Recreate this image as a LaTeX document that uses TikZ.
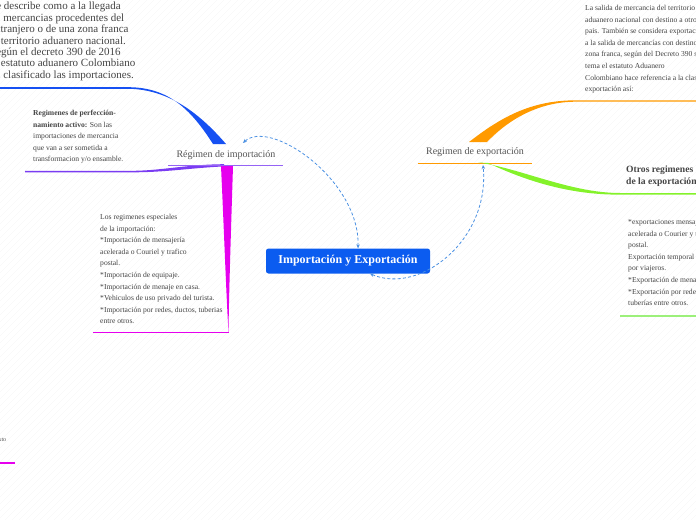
\documentclass[tikz,border=0pt]{standalone}
\usepackage{fontspec}
\setmainfont{Liberation Serif}
\usetikzlibrary{arrows.meta}
\definecolor{mapink}{HTML}{444444}
\definecolor{mapmuted}{HTML}{555555}
\definecolor{rootblue}{HTML}{0B5CF0}
\definecolor{impblue}{HTML}{1650F2}
\definecolor{impviolet}{HTML}{7A3CF2}
\definecolor{impmagenta}{HTML}{E600EE}
\definecolor{exporange}{HTML}{FF9A00}
\definecolor{expgreen}{HTML}{84F22A}
\definecolor{explight}{HTML}{9CF07A}
\definecolor{linkblue}{HTML}{4A90E2}

\begin{document}
\begin{tikzpicture}[
  x=1pt,
  y=-1pt,
  every node/.style={mapink, inner sep=0pt},
  hatch/.style={black!5, line width=0.3pt},
  title/.style={font=\fontsize{10}{12}\selectfont, mapmuted},
  body/.style={font=\fontsize{7.6}{11.6}\selectfont, align=left, anchor=north west},
  rootbox/.style={fill=rootblue, rounded corners=2.5pt, text=white,
    font=\bfseries\fontsize{12}{14}\selectfont, minimum width=164pt, minimum height=25pt},
  link/.style={linkblue, line width=0.8pt, dash pattern=on 3pt off 2.2pt,
    {Stealth[length=4pt,width=3.5pt]}-{Stealth[length=4pt,width=3.5pt]}}
]
  \useasboundingbox (0,0) rectangle (696,520);
  \clip (0,0) rectangle (696,520);

  % ---- faint paper hatch ----------------------------------------------
  \foreach \i in {-520,-513,...,696}
    \draw[hatch] (\i,520) -- ++(520,-520);

  % ---- import side branches -------------------------------------------
  % blue: up-left to the definition
  \fill[impblue] (213,144) .. controls (190,108) and (168,88) .. (130,87.2)
    -- (0,87.2) -- (0,88.8) -- (130,88.8)
    .. controls (165,90) and (195,108) .. (226,144) -- cycle;
  % violet: left to the active regime
  \fill[impviolet] (224,164.2) .. controls (185,164.5) and (160,171) .. (130,170.8)
    -- (25,170.8) -- (25,172.3) -- (130,172.3)
    .. controls (165,172.5) and (190,168) .. (224,166.4) -- cycle;
  \draw[impviolet!80, line width=1.4pt] (168,165.3) -- (283,165.3);
  % magenta: down to the special regimes
  \fill[impmagenta] (221,166) .. controls (224,230) and (226,290) .. (228.5,332)
    .. controls (229,290) and (231,230) .. (233,166) -- cycle;
  \draw[impmagenta, line width=1.4pt] (93,332.3) -- (229,332.3);
  % magenta stub, lower left
  \draw[impmagenta, line width=1.4pt] (0,463) -- (15,463);

  % ---- export side branches -------------------------------------------
  % orange: up-right to the definition
  \fill[exporange] (469,142) .. controls (500,118) and (530,100.5) .. (575,100.3)
    -- (696,100.3) -- (696,101.7) -- (575,101.7)
    .. controls (540,102) and (510,118) .. (487,142) -- cycle;
  \draw[exporange, line width=1.1pt] (418,163.2) -- (532,163.2);
  % green: down-right to the other regimes
  \fill[expgreen] (478,162.5) .. controls (520,168) and (570,193) .. (620,193)
    -- (696,193) -- (696,194.6) -- (620,194.6)
    .. controls (565,195) and (520,178) .. (488,163) -- cycle;
  \draw[explight, line width=1.8pt] (620,316) -- (696,316);

  % ---- nodes ----------------------------------------------------------
  \node[rootbox] (root) at (348,261) {Importación y Exportación};
  \node[title] (imp) at (226,155) {Régimen de importación};
  \node[title] (exp) at (475,152) {Regimen de exportación};

  \node[body, font=\rmfamily\fontsize{11}{11.4}\selectfont] (impdef) at (-10,2)
    {Se describe como a la llegada\\
     de mercancias procedentes del\\
     extranjero o de una zona franca\\
     al territorio aduanero nacional.\\
     Según el decreto 390 de 2016\\
     el estatuto aduanero Colombiano\\
     ha clasificado las importaciones.};
  \node[body] (impact) at (33,110)
    {\textbf{Regimenes de perfección-}\\
     \textbf{namiento activo:} Son las\\
     importaciones de mercancia\\
     que van a ser sometida a\\
     transformacion y/o ensamble.};
  \node[body] (impspec) at (100,214)
    {Los regimenes especiales\\
     de la importación:\\
     *Importación de mensajería\\
     acelerada o Couriel y trafico\\
     postal.\\
     *Importación de equipaje.\\
     *Importación de menaje en casa.\\
     *Vehiculos de uso privado del turista.\\
     *Importación por redes, ductos, tuberias\\
     entre otros.};
  \node[body, font=\fontsize{6}{7}\selectfont, mapmuted] (impstub) at (-6,438) {texto};

  \node[body] (expdef) at (585,5)
    {La salida de mercancia del territorio\\
     aduanero nacional con destino a otro\\
     pais. También se considera exportación\\
     a la salida de mercancías con destino a\\
     zona franca, según del Decreto 390 sis-\\
     tema el estatuto Aduanero\\
     Colombiano hace referencia a la clasificación\\
     exportación así:};
  \node[body, font=\bfseries\fontsize{9.6}{12}\selectfont] (expother) at (626,166)
    {Otros regimenes\\
     de la exportación};
  \node[body] (explist) at (628,219)
    {*exportaciones mensajería\\
     acelerada o Courier y trafico\\
     postal.\\
     Exportación temporal realizada\\
     por viajeros.\\
     *Exportación de menaje.\\
     *Exportación por redes, ductos,\\
     tuberías entre otros.};

  % ---- dashed links ---------------------------------------------------
  \coordinate (impend) at (243,143);
  \coordinate (expend) at (483,165);
  \draw[link] ([xshift=10pt]root.north) .. controls (360,180) and (270,118) .. (impend);
  \draw[link] ([xshift=22pt]root.south) .. controls (420,295) and (490,240) .. (expend);
\end{tikzpicture}
\end{document}
